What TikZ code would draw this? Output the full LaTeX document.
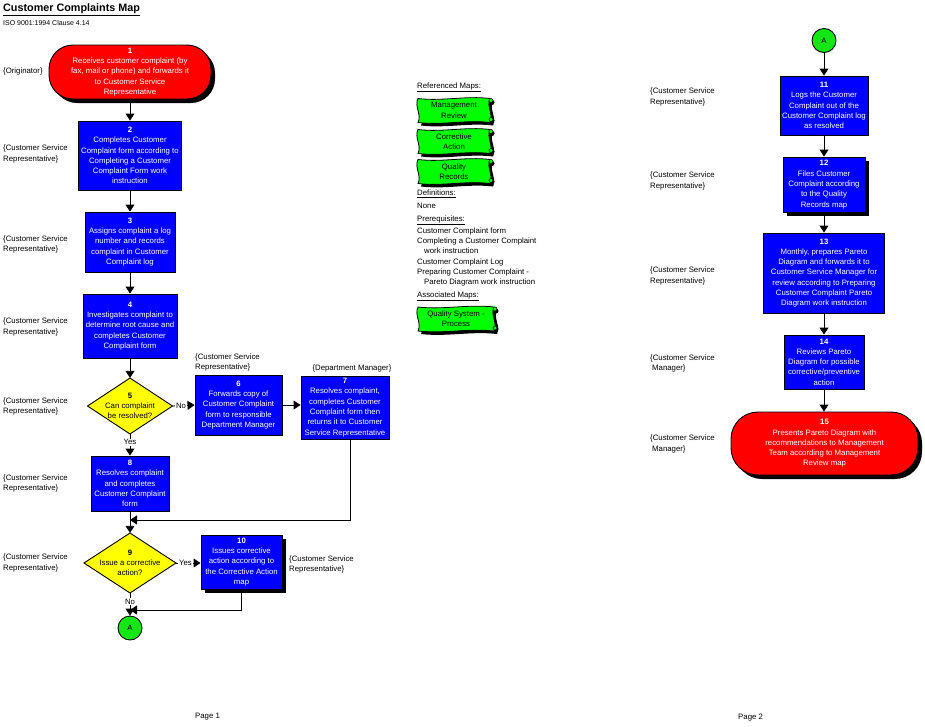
\documentclass[tikz,border=0pt]{standalone}
\usepackage{fontspec}
\setmainfont{Liberation Sans}
\usetikzlibrary{arrows.meta,shadows}
\definecolor{boxblue}{RGB}{0,0,255}
\definecolor{termred}{RGB}{255,0,0}
\definecolor{decyellow}{RGB}{255,255,0}
\definecolor{mapgreen}{RGB}{0,255,0}
\definecolor{conngreen}{RGB}{20,230,20}
\tikzset{
 base/.style={font=\fontsize{7.8}{10.3}\selectfont, inner sep=0pt},
 taskbox/.style={base, rectangle, draw=black, line width=0.9pt, fill=boxblue, text=white, align=center},
 shadowed/.style={drop shadow={fill=black, opacity=1, shadow xshift=4pt, shadow yshift=-4pt}},
 terminal/.style={base, rectangle, rounded corners=24pt, draw=black, line width=0.9pt, fill=termred, text=white, align=center},
 dectext/.style={base, rectangle, align=center, text=black},
 connector/.style={base, circle, draw=black, line width=0.9pt, fill=conngreen, minimum size=24pt},
 lane/.style={base, anchor=west, align=left},
 flow/.style={line width=0.9pt, -{Triangle[length=7pt,width=9pt]}},
 lbl/.style={base, fill=white, inner sep=1pt},
 side/.style={base, anchor=west},
 mapnode/.style={base, align=center, text=black},
}
\newcommand\decision[6]{%
 \filldraw[fill=decyellow,draw=black,line width=0.9pt] (#2-#4/2,#3) -- (#2,#3-#5/2) -- (#2+#4/2,#3) -- (#2,#3+#5/2) -- cycle;
 \node[dectext, minimum width=#4pt, minimum height=#5pt] (#1) at (#2,#3) {#6};
}
\newcommand\mapdoc[5]{%
 \begin{scope}[shift={(#2,#3)}]
  \fill[black,shift={(3,3)}] (-#4,-12) .. controls (-#4-4,-4) and (-#4+4,4) .. (-#4,12) .. controls (-12,15) and (12,9) .. (#4,12) .. controls (#4+4,4) and (#4-4,-4) .. (#4,-12) .. controls (12,-15) and (-12,-9) .. cycle;
  \fill[black] (#4+2,-8) circle (2.5) (#4+2,10) circle (2.5);
  \filldraw[fill=mapgreen,draw=black,line width=0.8pt] (-#4,-12) .. controls (-#4-4,-4) and (-#4+4,4) .. (-#4,12) .. controls (-12,15) and (12,9) .. (#4,12) .. controls (#4+4,4) and (#4-4,-4) .. (#4,-12) .. controls (12,-15) and (-12,-9) .. cycle;
  \filldraw[fill=mapgreen,draw=black,line width=0.6pt] (#4+1,-10) circle (2) (#4+1,9) circle (2);
 \end{scope}
 \node[mapnode] (#1) at (#2,#3) {#5};
}
\begin{document}
\begin{tikzpicture}[x=1pt,y=-1pt]
\useasboundingbox[fill=white] (0,0) rectangle (925,726);
% title
\node[base, anchor=west, font=\bfseries\fontsize{10.8}{12}\selectfont] (title) at (3,10) {\underline{Customer Complaints Map}};
\node[base, anchor=west, font=\fontsize{7}{8}\selectfont] (sub) at (3,23) {ISO 9001:1994 Clause 4.14};
% left column
\node[terminal, shadowed, minimum width=162pt, minimum height=54pt] (n1) at (130,72) {\textbf{1}\\Receives customer complaint (by\\fax, mail or phone) and forwards it\\to Customer Service\\Representative};
\node[taskbox, minimum width=103pt, minimum height=69pt] (n2) at (130,155.5) {\textbf{2}\\Completes Customer\\Complaint form according to\\Completing a Customer\\Complaint Form work\\instruction};
\node[taskbox, minimum width=90pt, minimum height=60pt] (n3) at (130,242) {\textbf{3}\\Assigns complaint a log\\number and records\\complaint in Customer\\Complaint log};
\node[taskbox, minimum width=94pt, minimum height=64pt] (n4) at (130,326) {\textbf{4}\\Investigates complaint to\\determine root cause and\\completes Customer\\Complaint form};
\decision{d5}{130}{406}{85}{56}{\textbf{5}\\Can complaint\\be resolved?}
\node[taskbox, minimum width=87pt, minimum height=60pt] (n6) at (238.5,405) {\textbf{6}\\Forwards copy of\\Customer Complaint\\form to responsible\\Department Manager};
\node[taskbox, minimum width=88pt, minimum height=63pt] (n7) at (345,407.5) {\textbf{7}\\Resolves complaint,\\completes Customer\\Complaint form then\\returns it to Customer\\Service Representative};
\node[taskbox, minimum width=78pt, minimum height=55pt] (n8) at (130,483.5) {\textbf{8}\\Resolves complaint\\and completes\\Customer Complaint\\form};
\decision{d9}{130}{563}{92}{60}{\textbf{9}\\Issue a corrective\\action?}
\node[taskbox, shadowed, minimum width=81pt, minimum height=54pt] (n10) at (241.5,562) {\textbf{10}\\Issues corrective\\action according to\\the Corrective Action\\map};
\node[connector] (A1) at (130,628) {A};
\coordinate (j1) at (130,520);
\coordinate (j2) at (130,610);
% left lane labels
\node[lane] (l1) at (3,71) {\{Originator\}};
\node[lane] (l2) at (3,154) {\{Customer Service\\Representative\}};
\node[lane] (l3) at (3,244.5) {\{Customer Service\\Representative\}};
\node[lane] (l4) at (3,327) {\{Customer Service\\Representative\}};
\node[lane] (l5) at (3,406.5) {\{Customer Service\\Representative\}};
\node[lane] (l8) at (3,483.5) {\{Customer Service\\Representative\}};
\node[lane] (l9) at (3,563) {\{Customer Service\\Representative\}};
\node[lane] (l6) at (195,362.5) {\{Customer Service\\Representative\}};
\node[base] (l7) at (352,368) {\{Department Manager\}};
\node[lane] (l10) at (289,564.5) {\{Customer Service\\Representative\}};
% left connectors
\draw[flow] (n1) -- (n2);
\draw[flow] (n2) -- (n3);
\draw[flow] (n3) -- (n4);
\draw[flow] (n4) -- (d5.north);
\draw[flow] (d5.east) -- node[lbl, pos=0.38] {No} (n6.west);
\draw[flow] (d5.south) -- node[lbl, pos=0.38] {Yes} (n8.north);
\draw[flow] (n6.east) -- (n7.west |- n6.east);
\draw[flow] ([xshift=5pt]n7.south) |- (j1);
\draw[flow] (n8.south) -- (d9.north);
\draw[flow] (d9.east) -- node[lbl, pos=0.38] {Yes} (n10.west |- d9.east);
\draw[flow] (d9.south) -- node[lbl, pos=0.38] {No} (A1.north);
\draw[flow] (n10.south) |- (j2);
% middle column
\node[side] (rm) at (417,87) {\underline{Referenced Maps:}};
\mapdoc{m1}{454}{110.5}{36}{Management\\Review}
\mapdoc{m2}{454}{141.5}{36}{Corrective\\Action}
\mapdoc{m3}{454}{171.5}{36}{Quality\\Records}
\node[side] (df) at (417,194) {\underline{Definitions:}};
\node[side] (none) at (417,206) {None};
\node[side] (pr) at (417,220) {\underline{Prerequisites:}};
\node[side] (p1) at (417,231) {Customer Complaint form};
\node[side] (p2) at (417,241) {Completing a Customer Complaint};
\node[side] (p3) at (424,251) {work instruction};
\node[side] (p4) at (417,262) {Customer Complaint Log};
\node[side] (p5) at (417,272) {Preparing Customer Complaint -};
\node[side] (p6) at (424,282) {Pareto Diagram work instruction};
\node[side] (am) at (417,296) {\underline{Associated Maps:}};
\mapdoc{m4}{456}{319}{38}{Quality System -\\Process}
% right column
\node[connector] (A2) at (824,40.5) {A};
\node[taskbox, minimum width=88pt, minimum height=59pt] (n11) at (824,105.5) {\textbf{11}\\Logs the Customer\\Complaint out of the\\Customer Complaint log\\as resolved};
\node[taskbox, shadowed, minimum width=82pt, minimum height=55pt] (n12) at (824,184.5) {\textbf{12}\\Files Customer\\Complaint according\\to the Quality\\Records map};
\node[taskbox, minimum width=121pt, minimum height=80pt] (n13) at (824,273) {\textbf{13}\\Monthly, prepares Pareto\\Diagram and forwards it to\\Customer Service Manager for\\review according to Preparing\\Customer Complaint Pareto\\Diagram work instruction};
\node[taskbox, minimum width=80pt, minimum height=54pt] (n14) at (824,362) {\textbf{14}\\Reviews Pareto\\Diagram for possible\\corrective/preventive\\action};
\node[terminal, shadowed, rounded corners=27pt, minimum width=187pt, minimum height=63pt] (n15) at (824.5,443.5) {\textbf{15}\\Presents Pareto Diagram with\\recommendations to Management\\Team according to Management\\Review map};
\node[lane] (r11) at (650,97) {\{Customer Service\\Representative\}};
\node[lane] (r12) at (650,181) {\{Customer Service\\Representative\}};
\node[lane] (r13) at (650,276) {\{Customer Service\\Representative\}};
\node[lane] (r14) at (650,363.5) {\{Customer Service\\\hspace*{2pt}Manager\}};
\node[lane] (r15) at (650,444) {\{Customer Service\\\hspace*{2pt}Manager\}};
\draw[flow] (A2) -- (n11);
\draw[flow] (n11) -- (n12);
\draw[flow] (n12) -- (n13);
\draw[flow] (n13) -- (n14);
\draw[flow] (n14.south) -- (n15.north -| n14.south);
% page labels
\node[side] (pg1) at (195,717) {Page 1};
\node[side] (pg2) at (738,718) {Page 2};
\end{tikzpicture}
\end{document}
